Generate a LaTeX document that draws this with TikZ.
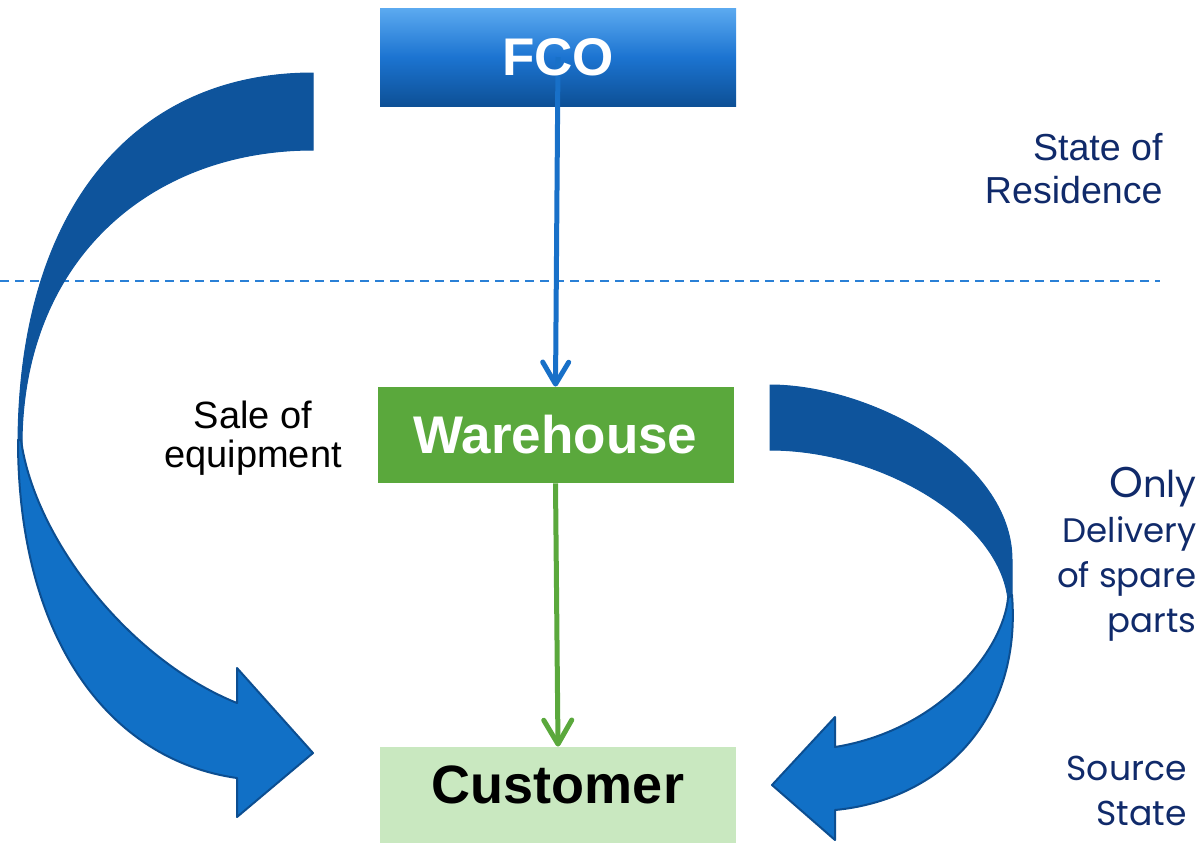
\documentclass[tikz,border=0pt]{standalone}
\usepackage{fontspec}
\setmainfont{Liberation Sans}
\newfontfamily\geo{Poppins}
\usetikzlibrary{arrows.meta}
\definecolor{navy}{HTML}{102A6A}
\definecolor{fcotop}{RGB}{92,170,240}
\definecolor{fcomid}{RGB}{28,116,209}
\definecolor{fcobot}{RGB}{13,80,150}
\definecolor{whgreen}{HTML}{5AA83C}
\definecolor{custgreen}{HTML}{C9E8C0}
\definecolor{arrdark}{RGB}{14,84,156}
\definecolor{arrlight}{RGB}{17,112,198}
\definecolor{arrline}{RGB}{12,78,145}
\definecolor{linkblue}{RGB}{24,112,200}
\definecolor{dashblue}{RGB}{42,128,214}
\begin{document}
\begin{tikzpicture}[x=0.5pt,y=-0.5pt,
  box/.style={rectangle, inner sep=0pt, minimum width=178pt},
  bigtext/.style={font=\fontsize{26.5}{30}\selectfont\bfseries},
  bluelink/.style={draw=linkblue, line width=2.5pt, -{Straight Barb[length=11pt,width=13pt,round]}},
  greenlink/.style={draw=whgreen, line width=2.5pt, -{Straight Barb[length=12pt,width=14pt,round]}},
  dashline/.style={draw=dashblue, line width=1pt, dash pattern=on 4.5pt off 3pt},
  backface/.style={fill=arrdark, draw=arrdark, line width=0.5pt},
  frontface/.style={fill=arrlight, draw=arrline, line width=1pt, line join=round},
  navytext/.style={text=navy, inner sep=0pt, align=right},
]
\useasboundingbox (0,0) rectangle (1202,843);

% separator
\draw[dashline] (0,281) -- (1160,281);

% left curved arrow
\path[backface] (313,73) .. controls (130,73) and (18,214) .. (18,445)
  -- (22,445) .. controls (22,260) and (150,150) .. (313,150) -- cycle;
\path[frontface] (18,440) .. controls (18,640) and (110,760) .. (237,778)
  -- (237,817) -- (313,753) -- (237,668) -- (237,703)
  .. controls (130,660) and (35,540) .. (21,440) -- cycle;

% right curved arrow
\path[backface] (770,385) .. controls (870,385) and (1012,460) .. (1012,560)
  -- (1012,600) -- (1008,600) .. controls (1000,520) and (880,450) .. (770,450) -- cycle;
\path[frontface] (1012,595) .. controls (1022,720) and (940,800) .. (835,810)
  -- (835,840) -- (772,785) -- (835,717) -- (835,747)
  .. controls (940,730) and (1003,650) .. (1008,598) -- cycle;

% boxes
\node[box, minimum height=49pt, top color=fcotop, bottom color=fcobot, middle color=fcomid] (fco) at (558,57) {};
\node[box, minimum height=48pt, fill=whgreen, text=white, bigtext] (wh) at (555.5,435) {Warehouse};
\node[box, minimum height=48pt, fill=custgreen, text=black,
      font=\fontsize{27}{30}\selectfont\bfseries, text height=20pt, text depth=12pt] (cust) at (558,795) {Customer};

% connectors
\draw[bluelink] (fco.center) -- (wh.north);
\draw[greenlink] (wh.south) -- (cust.north);
\node[text=white, bigtext, inner sep=0pt] (fcolbl) at (fco.center) {FCO};

% labels (base anchor = baseline of the last line)
\node[navytext, anchor=base east, font=\fontsize{18.8}{21.5}\selectfont] (res) at (1163,203) {State of\\Residence};
\node[inner sep=0pt, align=center, anchor=base, text=black, font=\fontsize{19}{19.5}\selectfont] (sale) at (253,467) {Sale of\\equipment};
\node[navytext, anchor=base east, font=\geo\fontsize{17}{22.5}\selectfont] (only) at (1197,632)
  {{\fontsize{21.5}{22.5}\selectfont O}{\fontsize{18.5}{22.5}\selectfont nly}\\Delivery\\of spare\\parts};
\node[navytext, anchor=base east, font=\geo\fontsize{17.3}{22.5}\selectfont] (src) at (1187,825) {Source\\State};
\end{tikzpicture}
\end{document}
